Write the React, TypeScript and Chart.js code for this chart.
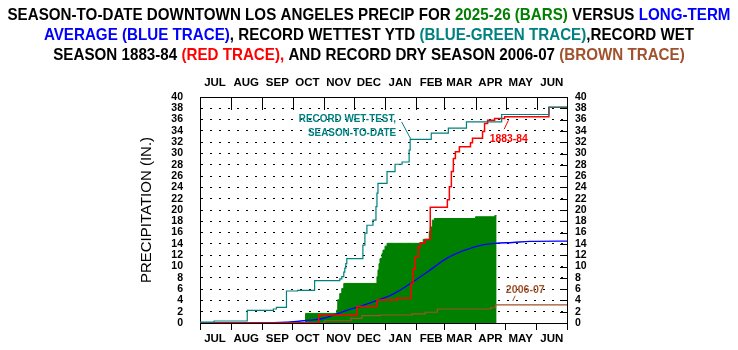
import { useEffect, useRef } from 'react';
import { Chart, registerables } from 'chart.js';

Chart.register(...registerables);

// ---------- DATA ----------
// x = day of the season (0 = Jul 1), y = cumulative precipitation (inches)
const MONTH_LABELS = ['JUL', 'AUG', 'SEP', 'OCT', 'NOV', 'DEC', 'JAN', 'FEB', 'MAR', 'APR', 'MAY', 'JUN'];
const MONTH_START_DAYS = [0, 31, 62, 92, 123, 153, 184, 215, 243, 274, 304, 335, 365];
const Y_MIN = 0;
const Y_MAX = 40;
const Y_STEP = 2;

// 2025-26 season to date (green bars)
const SEASON_2025_26_DAYS = [0, 85, 105, 136, 137, 139, 141, 143, 176, 177, 178, 179, 181, 182, 184, 186, 222, 228, 229, 231, 233, 274, 293, 295];
const SEASON_2025_26_INCHES = [0, 0.1, 1.7, 2.3, 4.1, 5.2, 6.1, 7.0, 8.2, 9.4, 10.5, 11.4, 12.3, 12.9, 13.6, 14.1, 14.8, 16.2, 17.0, 18.2, 18.5, 18.8, 19.0, 19.0];

// Long-term average (blue)
const AVERAGE_DAYS = [0, 47, 85, 100, 110, 122, 136, 149, 162, 176, 189, 196, 212, 229, 245, 262, 278, 293, 311, 328, 365];
const AVERAGE_INCHES = [0, 0.03, 0.15, 0.35, 0.5, 0.8, 1.6, 2.4, 3.1, 4.0, 4.85, 5.5, 7.3, 9.4, 11.4, 12.8, 13.7, 14.1, 14.25, 14.45, 14.5];

// Record wettest season-to-date (blue-green)
const RECORD_YTD_DAYS = [0, 14, 47, 73, 76, 86, 97, 114, 139, 141, 143, 144, 145, 146, 162, 164, 166, 172, 175, 176, 177, 186, 194, 201, 208, 209, 230, 247, 265, 300, 347, 365];
const RECORD_YTD_INCHES = [0.15, 0.35, 2.25, 2.48, 2.78, 5.66, 5.79, 7.5, 7.8, 8.2, 9.0, 9.7, 10.5, 11.4, 13.8, 15.9, 17.3, 18.2, 20.6, 23.0, 24.7, 26.8, 28.1, 28.5, 30.6, 32.5, 33.6, 34.5, 35.6, 36.9, 38.18, 38.18];

// Record wet season 1883-84 (red)
const WET_1883_84_DAYS = [0, 118, 156, 176, 196, 210, 212, 214, 217, 219, 224, 229, 246, 248, 250, 252, 254, 258, 269, 271, 281, 283, 286, 293, 303, 347, 365];
const WET_1883_84_INCHES = [0, 1.4, 2.9, 4.07, 4.4, 7.0, 9.5, 11.7, 13.5, 14.2, 14.8, 20.5, 21.8, 24.1, 26.8, 29.1, 30.3, 31.2, 31.9, 32.7, 33.9, 35.3, 35.9, 36.2, 36.5, 38.18, 38.18];

// Record dry season 2006-07 (brown)
const DRY_2006_07_DAYS = [0, 124, 150, 161, 179, 211, 224, 236, 289, 294, 365];
const DRY_2006_07_INCHES = [0, 0.4, 0.83, 1.3, 1.42, 1.6, 1.9, 2.48, 2.7, 3.21, 3.21];

// ---------- TEXT ----------
const BLACK = '#000000';
const GREEN = '#008000';
const BLUE = '#0000FF';
const TEAL = '#008080';
const RED = '#FF0000';
const BROWN = '#A0522D';

const TITLE_LINES: [string, string][][] = [
  [['SEASON-TO-DATE DOWNTOWN LOS ANGELES PRECIP FOR ', BLACK], ['2025-26 (BARS)', GREEN], [' VERSUS ', BLACK], ['LONG-TERM', BLUE]],
  [['AVERAGE (BLUE TRACE)', BLUE], [', RECORD WETTEST YTD ', BLACK], ['(BLUE-GREEN TRACE)', TEAL], [',RECORD WET', BLACK]],
  [['SEASON 1883-84 ', BLACK], ['(RED TRACE),', RED], [' AND RECORD DRY SEASON 2006-07 ', BLACK], ['(BROWN TRACE)', BROWN]],
];
const Y_TITLE = 'PRECIPITATION (IN.)';
const TEAL_NOTE = ['RECORD WET-TEST,', 'SEASON-TO-DATE'];
const RED_NOTE = '1883-84';
const BROWN_NOTE = '2006-07';

const FAMILY = '"Liberation Sans", Arial, Helvetica, sans-serif';

const toPoints = (xs: number[], ys: number[]) => xs.map((x, i) => ({ x, y: ys[i] }));

// draw text squeezed horizontally by sx, anchored per align
function squeezedText(ctx: CanvasRenderingContext2D, text: string, x: number, y: number, sx: number, align: 'left' | 'center' | 'right') {
  const w = ctx.measureText(text).width * sx;
  const left = align === 'left' ? x : align === 'center' ? x - w / 2 : x - w;
  ctx.save();
  ctx.translate(left, y);
  ctx.scale(sx, 1);
  ctx.textAlign = 'left';
  ctx.fillText(text, 0, 0);
  ctx.restore();
}

const decorPlugin = {
  id: 'decor',
  afterDatasetsDraw(chart: any) {
    const ctx = chart.ctx as CanvasRenderingContext2D;
    const xs = chart.scales.x;
    const ys = chart.scales.y;
    const px = (d: number) => xs.getPixelForValue(d);
    const py = (v: number) => ys.getPixelForValue(v);
    ctx.save();
    ctx.textBaseline = 'middle';
    ctx.font = `bold 11.5px ${FAMILY}`;
    // teal note
    ctx.fillStyle = TEAL;
    squeezedText(ctx, TEAL_NOTE[0], px(195), py(36.1), 0.86, 'right');
    squeezedText(ctx, TEAL_NOTE[1], px(195), py(33.6), 0.86, 'right');
    ctx.strokeStyle = TEAL;
    ctx.lineWidth = 1;
    ctx.beginPath();
    ctx.moveTo(px(200.5), py(35.6));
    ctx.lineTo(px(209.5), py(32.6));
    ctx.stroke();
    // red note
    ctx.fillStyle = RED;
    squeezedText(ctx, RED_NOTE, px(307), py(32.6), 0.9, 'center');
    ctx.strokeStyle = RED;
    ctx.beginPath();
    ctx.moveTo(px(302.5), py(34.3));
    ctx.lineTo(px(306.8), py(35.9));
    ctx.stroke();
    // brown note
    ctx.fillStyle = BROWN;
    squeezedText(ctx, BROWN_NOTE, px(323.5), py(5.84), 0.92, 'center');
    ctx.strokeStyle = BROWN;
    ctx.beginPath();
    ctx.moveTo(px(311), py(3.9));
    ctx.lineTo(px(313.5), py(4.83));
    ctx.stroke();
    ctx.restore();
  },
  afterDraw(chart: any) {
    const ctx = chart.ctx as CanvasRenderingContext2D;
    const area = chart.chartArea;
    ctx.save();
    // title: condensed bold, first line fitted to 723px
    ctx.font = `bold 16.5px ${FAMILY}`;
    ctx.textBaseline = 'middle';
    ctx.textAlign = 'left';
    const cx = chart.width / 2;
    const firstW = TITLE_LINES[0].reduce((a, s) => a + ctx.measureText(s[0]).width, 0);
    const sx = 723 / firstW;
    TITLE_LINES.forEach((segs, li) => {
      const widths = segs.map((s) => ctx.measureText(s[0]).width * sx);
      const total = widths.reduce((a, b) => a + b, 0);
      let x = cx - total / 2;
      const y = 15 + li * 20;
      segs.forEach((s, i) => {
        ctx.fillStyle = s[1];
        squeezedText(ctx, s[0], x, y, sx, 'left');
        x += widths[i];
      });
    });
    // inward tick marks: top month boundaries, right inch ticks
    ctx.strokeStyle = BLACK;
    ctx.lineWidth = 1;
    ctx.beginPath();
    const xTop = chart.scales.xTop;
    xTop.ticks.forEach((t: any) => {
      const x = Math.round(xTop.getPixelForValue(t.value)) + 0.5;
      ctx.moveTo(x, area.top);
      ctx.lineTo(x, area.top + 13);
    });
    const yR = chart.scales.yRight;
    yR.ticks.forEach((t: any) => {
      const y = Math.round(yR.getPixelForValue(t.value)) + 0.5;
      ctx.moveTo(area.right - 7, y);
      ctx.lineTo(area.right, y);
    });
    ctx.stroke();
    ctx.restore();
  },
};

const monthTick = (value: number) => {
  const i = MONTH_START_DAYS.indexOf(value);
  return i >= 0 && i < MONTH_LABELS.length ? MONTH_LABELS[i] : '';
};

export default function App() {
  const ref = useRef<HTMLCanvasElement | null>(null);
  useEffect(() => {
    if (!ref.current) return;
    const monthFont = { family: FAMILY, size: 11.5, weight: 'bold' as const };
    const numFont = { family: FAMILY, size: 10.5, weight: 'bold' as const };
    const chart = new Chart(ref.current, {
      type: 'line',
      data: {
        datasets: [
          {
            label: '2025-26',
            data: toPoints(SEASON_2025_26_DAYS, SEASON_2025_26_INCHES),
            stepped: true,
            fill: 'origin',
            backgroundColor: GREEN,
            borderColor: GREEN,
            borderWidth: 1,
            pointRadius: 0,
            order: 5,
          },
          {
            label: '2006-07',
            data: toPoints(DRY_2006_07_DAYS, DRY_2006_07_INCHES),
            stepped: true,
            borderColor: BROWN,
            borderWidth: 1.2,
            pointRadius: 0,
            fill: false,
            order: 4,
          },
          {
            label: 'Average',
            data: toPoints(AVERAGE_DAYS, AVERAGE_INCHES),
            cubicInterpolationMode: 'monotone',
            borderColor: BLUE,
            borderWidth: 1.4,
            pointRadius: 0,
            fill: false,
            order: 3,
          },
          {
            label: '1883-84',
            data: toPoints(WET_1883_84_DAYS, WET_1883_84_INCHES),
            stepped: true,
            borderColor: RED,
            borderWidth: 1.5,
            pointRadius: 0,
            fill: false,
            order: 2,
          },
          {
            label: 'Record YTD',
            data: toPoints(RECORD_YTD_DAYS, RECORD_YTD_INCHES),
            stepped: true,
            borderColor: TEAL,
            borderWidth: 1.2,
            pointRadius: 0,
            fill: false,
            order: 1,
          },
        ] as any,
      },
      options: {
        responsive: false,
        animation: false,
        devicePixelRatio: 1,
        events: [],
        layout: { padding: { left: 134, top: 0, right: 0, bottom: 0 } },
        plugins: { legend: { display: false }, tooltip: { enabled: false }, title: { display: false } },
        scales: {
          x: {
            type: 'linear',
            position: 'bottom',
            min: 0,
            max: 365,
            afterBuildTicks: (axis: any) => {
              axis.ticks = MONTH_START_DAYS.map((v) => ({ value: v }));
            },
            afterFit: (axis: any) => {
              axis.height = 27;
            },
            ticks: {
              callback: (v: any) => monthTick(Number(v)),
              autoSkip: false,
              maxRotation: 0,
              minRotation: 0,
              labelOffset: 15,
              padding: 2,
              color: BLACK,
              font: monthFont,
            },
            grid: { drawOnChartArea: false, drawTicks: true, tickLength: 7, color: BLACK, tickColor: BLACK },
            border: { display: true, color: BLACK, width: 1 },
          },
          xTop: {
            type: 'linear',
            position: 'top',
            min: 0,
            max: 365,
            afterBuildTicks: (axis: any) => {
              axis.ticks = MONTH_START_DAYS.map((v) => ({ value: v }));
            },
            afterFit: (axis: any) => {
              axis.height = 97;
            },
            ticks: {
              callback: (v: any) => monthTick(Number(v)),
              autoSkip: false,
              maxRotation: 0,
              minRotation: 0,
              labelOffset: 15,
              padding: 7,
              color: BLACK,
              font: monthFont,
            },
            grid: { drawOnChartArea: false, drawTicks: false, color: BLACK },
            border: { display: true, color: BLACK, width: 1 },
          },
          y: {
            type: 'linear',
            position: 'left',
            min: Y_MIN,
            max: Y_MAX,
            afterFit: (axis: any) => {
              axis.width = 66;
            },
            ticks: { stepSize: Y_STEP, autoSkip: false, padding: 17, color: BLACK, font: numFont },
            grid: { drawOnChartArea: true, drawTicks: false, color: BLACK, lineWidth: 1 },
            border: { display: true, color: BLACK, width: 1, dash: [2, 7] },
            title: {
              display: true,
              text: Y_TITLE,
              color: BLACK,
              font: { family: FAMILY, size: 15, weight: 'normal' },
              padding: { top: 4, bottom: 0 },
            },
          },
          yRight: {
            type: 'linear',
            position: 'right',
            min: Y_MIN,
            max: Y_MAX,
            afterFit: (axis: any) => {
              axis.width = 171;
            },
            ticks: { stepSize: Y_STEP, autoSkip: false, padding: 8, color: BLACK, font: numFont },
            grid: { drawOnChartArea: false, drawTicks: false, color: BLACK },
            border: { display: true, color: BLACK, width: 1 },
          },
        } as any,
      },
      plugins: [decorPlugin],
    });
    return () => chart.destroy();
  }, []);
  return (
    <div style={{ position: 'absolute', left: 0, top: 0, width: 738, height: 350, background: '#ffffff' }}>
      <canvas ref={ref} width={738} height={350} style={{ display: 'block' }} />
    </div>
  );
}
